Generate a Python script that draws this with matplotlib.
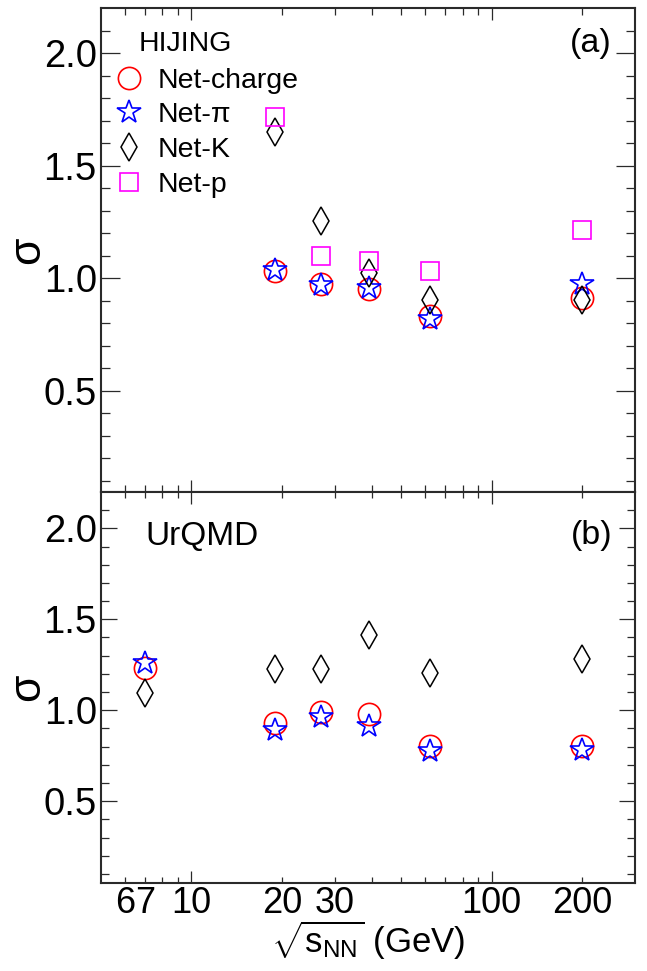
import matplotlib
matplotlib.use('Agg')
import matplotlib.pyplot as plt
from matplotlib.ticker import FixedLocator, FuncFormatter

plt.rcParams['font.family'] = ['Liberation Sans', 'DejaVu Sans']
plt.rcParams['mathtext.fontset'] = 'custom'
plt.rcParams['mathtext.rm'] = 'Liberation Sans'
plt.rcParams['mathtext.it'] = 'Liberation Sans:italic'
plt.rcParams['mathtext.bf'] = 'Liberation Sans:bold'

# ---------------- data ----------------
# (a) HIJING
energy_hijing = [19, 27, 39, 62.4, 200]
hijing_netcharge = [1.031, 0.975, 0.951, 0.830, 0.911]
hijing_netpi = [1.034, 0.971, 0.957, 0.820, 0.972]
hijing_netk = [1.648, 1.252, 1.022, 0.904, 0.905]
hijing_netp = [1.714, 1.098, 1.077, 1.031, 1.216]

# (b) UrQMD
energy_urqmd = [7, 19, 27, 39, 62.4, 200]
urqmd_netcharge = [1.231, 0.928, 0.993, 0.980, 0.802, 0.804]
urqmd_netpi = [1.259, 0.894, 0.962, 0.912, 0.774, 0.784]
urqmd_netk = [1.096, 1.224, 1.226, 1.415, 1.204, 1.279]

series_labels = ['Net-charge', 'Net-\u03c0', 'Net-K', 'Net-p']

xtick_values = [6, 7, 10, 20, 30, 100, 200]
xtick_labels = ['6', '7', '10', '20', '30', '100', '200']
ytick_values = [0.5, 1.0, 1.5, 2.0]
ytick_labels = ['0.5', '1.0', '1.5', '2.0']

# ---------------- style ----------------
styles = [
    dict(marker='o', mec='#ff0000', ms=16.0, mew=1.2),
    dict(marker='*', mec='#0000ff', ms=17.5, mew=1.2),
    dict(marker='d', mec='#000000', ms=14.0, mew=1.1),
    dict(marker='s', mec='#ff00ff', ms=13.5, mew=1.2),
]

W, H = 647, 971
fig = plt.figure(figsize=(W / 100, H / 100), dpi=100)

def frac_axes(left, top, right, bottom):
    return fig.add_axes([left / W, 1 - bottom / H, (right - left) / W, (bottom - top) / H])

ax1 = frac_axes(101, 8, 635, 492)
ax2 = frac_axes(101, 492, 635, 883)

major_x = [10, 100]
minor_x = [6, 7, 8, 9, 20, 30, 40, 50, 60, 70, 80, 90, 200]
minor_y = [round(0.1 * i, 1) for i in range(1, 22) if i % 5 != 0]

lab_map = dict(zip(xtick_values, xtick_labels))

def xfmt(v, pos):
    for k, s in lab_map.items():
        if abs(v - k) < 1e-6 * k:
            return s
    return ''

frame_col = '#2a2a2a'

def style_axes(ax, ymaj_len, ymin_len, xmaj_len, xmin_len, show_xlabels):
    ax.set_xscale('log')
    ax.set_xlim(5, 300)
    ax.set_ylim(0.05, 2.2)
    ax.xaxis.set_major_locator(FixedLocator(major_x))
    ax.xaxis.set_minor_locator(FixedLocator(minor_x))
    ax.xaxis.set_major_formatter(FuncFormatter(xfmt))
    ax.xaxis.set_minor_formatter(FuncFormatter(xfmt))
    ax.set_yticks(ytick_values)
    ax.set_yticklabels(ytick_labels)
    ax.yaxis.set_minor_locator(FixedLocator(minor_y))
    for sp in ax.spines.values():
        sp.set_linewidth(1.5)
        sp.set_color(frame_col)
    ax.tick_params(axis='both', which='both', direction='in', top=True, right=True,
                   color=frame_col, width=0.9)
    ax.tick_params(axis='y', which='major', length=ymaj_len * 0.72, labelsize=27.5, pad=3)
    ax.tick_params(axis='y', which='minor', length=ymin_len * 0.72)
    ax.tick_params(axis='x', which='major', length=xmaj_len * 0.72)
    ax.tick_params(axis='x', which='minor', length=xmin_len * 0.72)
    ax.tick_params(axis='x', which='both', labelsize=26, pad=2,
                   labelbottom=show_xlabels, labeltop=False)

style_axes(ax1, 19, 9, 12, 7, False)
style_axes(ax2, 16, 8, 12, 6, True)

hij = [hijing_netcharge, hijing_netpi, hijing_netk, hijing_netp]
handles = []
for vals, st, lab in zip(hij, styles, series_labels):
    h, = ax1.plot(energy_hijing, vals, linestyle='none', mfc='none', label=lab, **st)
    handles.append(h)

urq = [urqmd_netcharge, urqmd_netpi, urqmd_netk]
for vals, st in zip(urq, styles[:3]):
    ax2.plot(energy_urqmd, vals, linestyle='none', mfc='none', **st)

ax1.legend(handles=handles, loc='upper left', bbox_to_anchor=(0.0257, 0.877),
           frameon=False, fontsize=20.5, handlelength=1.0, handletextpad=0.5,
           labelspacing=0.31, borderpad=0, borderaxespad=0, numpoints=1)

ax1.text(0.0712, 0.912, 'HIJING', transform=ax1.transAxes, fontsize=20.5,
         ha='left', va='baseline')
ax1.text(0.957, 0.926, '(a)', transform=ax1.transAxes, fontsize=24.5,
         ha='right', va='center')
ax2.text(0.0824, 0.8645, 'UrQMD', transform=ax2.transAxes, fontsize=24,
         ha='left', va='baseline')
ax2.text(0.957, 0.89, '(b)', transform=ax2.transAxes, fontsize=24.5,
         ha='right', va='center')

for ax in (ax1, ax2):
    ax.set_ylabel('\u03c3', fontsize=32, va='center', rotation=90)
    ax.yaxis.set_label_coords(-0.137, 0.5)

ax2.set_xlabel(r'$\sqrt{\mathrm{s}_{\mathrm{NN}}}$ (GeV)', fontsize=25, va='top')
ax2.xaxis.set_label_coords(0.5, -0.092)

fig.savefig('out.png', dpi=100)
